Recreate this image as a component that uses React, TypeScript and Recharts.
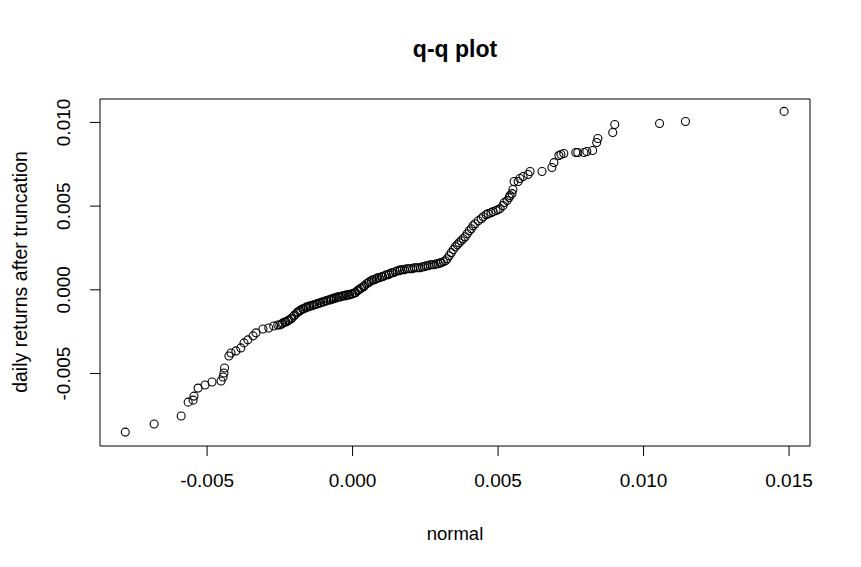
import React from 'react';
import { ScatterChart, Scatter, XAxis, YAxis, ReferenceArea } from 'recharts';

const FONT = '"Liberation Sans", Arial, Helvetica, sans-serif';

const chartTitle = 'q-q plot';
const xAxisTitle = 'normal';
const yAxisTitle = 'daily returns after truncation';

const xTicks = [-0.005, 0, 0.005, 0.01, 0.015];
const xTickLabels = ['-0.005', '0.000', '0.005', '0.010', '0.015'];
const yTicks = [-0.005, 0, 0.005, 0.01];
const yTickLabels = ['-0.005', '0.000', '0.005', '0.010'];

const xDomain = [-0.00868, 0.01572];
const yDomain = [-0.00933, 0.0114];

// lower tail
const tailLowX = [-0.00781, -0.00682, -0.00589, -0.00565, -0.00548, -0.00545, -0.00531, -0.00507, -0.00483, -0.00452, -0.00445, -0.00442, -0.0044, -0.00425, -0.00418, -0.00401, -0.00384, -0.00373, -0.0036, -0.00342, -0.00332, -0.00308, -0.00288, -0.00271, -0.00257];
const tailLowY = [-0.0085, -0.00802, -0.00754, -0.00671, -0.00659, -0.00635, -0.00587, -0.00569, -0.00551, -0.00545, -0.00521, -0.00497, -0.00467, -0.00395, -0.00377, -0.00365, -0.00347, -0.00317, -0.00299, -0.00275, -0.00257, -0.00234, -0.00228, -0.00216, -0.0021];

// central body
const bodyX = [-0.0025, -0.00243, -0.0024, -0.00233, -0.00229, -0.00223, -0.00219, -0.00212, -0.00209, -0.00202, -0.00199, -0.00192, -0.00188, -0.00182, -0.00178, -0.00171, -0.00168, -0.00161, -0.00158, -0.00151, -0.00147, -0.0014, -0.00134, -0.0013, -0.00123, -0.0012, -0.00113, -0.0011, -0.00103, -0.00099, -0.00092, -0.00089, -0.00082, -0.00075, -0.00072, -0.00065, -0.00062, -0.00055, -0.00051, -0.00045, -0.00041, -0.00034, -0.00031, -0.00024, -0.00021, -0.00014, -0.0001, -0.00003, 0.0, 0.00007, 0.0001, 0.00017, 0.00021, 0.00027, 0.00031, 0.00038, 0.00041, 0.00048, 0.00055, 0.00058, 0.00065, 0.00069, 0.00075, 0.00082, 0.00086, 0.00092, 0.00099, 0.00103, 0.0011, 0.00116, 0.00123, 0.00127, 0.00134, 0.0014, 0.00147, 0.00154, 0.00161, 0.00164, 0.00171, 0.00178, 0.00185, 0.00192, 0.00199, 0.00206, 0.00212, 0.00219, 0.00226, 0.00233, 0.0024, 0.00247, 0.00253, 0.0026, 0.00267, 0.00274, 0.00281, 0.00288, 0.00295, 0.00301, 0.00305, 0.00312, 0.00319];
const bodyY = [-0.0021, -0.00204, -0.00198, -0.00192, -0.00192, -0.00186, -0.0018, -0.00174, -0.00168, -0.00156, -0.0015, -0.00138, -0.00132, -0.00126, -0.0012, -0.00114, -0.00114, -0.00108, -0.00102, -0.00102, -0.00096, -0.00096, -0.0009, -0.0009, -0.00084, -0.00084, -0.00078, -0.00078, -0.00072, -0.00072, -0.00066, -0.00066, -0.0006, -0.0006, -0.00054, -0.00054, -0.00048, -0.00048, -0.00042, -0.00042, -0.00042, -0.00036, -0.00036, -0.00036, -0.0003, -0.0003, -0.0003, -0.00024, -0.00024, -0.00018, -0.00018, -0.00006, 0.0, 0.00006, 0.00012, 0.00018, 0.00024, 0.00036, 0.00042, 0.00048, 0.00054, 0.0006, 0.0006, 0.00066, 0.00072, 0.00072, 0.00078, 0.00078, 0.00084, 0.0009, 0.0009, 0.00096, 0.00102, 0.00102, 0.00108, 0.00114, 0.00114, 0.0012, 0.0012, 0.0012, 0.00126, 0.00126, 0.00126, 0.00126, 0.00132, 0.00132, 0.00132, 0.00132, 0.00138, 0.00138, 0.00144, 0.00144, 0.0015, 0.0015, 0.0015, 0.00156, 0.00156, 0.00162, 0.00162, 0.00168, 0.00174];

// steep rise
const riseX = [0.00325, 0.00332, 0.00339, 0.00346, 0.00353, 0.0036, 0.00366, 0.00373, 0.0038, 0.00387, 0.00394, 0.00401, 0.00408, 0.00414, 0.00421, 0.00432, 0.00442, 0.00449, 0.00459, 0.00466, 0.00476, 0.00483, 0.00493, 0.005, 0.00507, 0.00517, 0.00521, 0.00531, 0.00538, 0.00541];
const riseY = [0.00186, 0.00204, 0.00222, 0.0024, 0.00257, 0.00269, 0.00281, 0.00293, 0.00305, 0.00317, 0.00335, 0.00353, 0.00365, 0.00383, 0.00395, 0.00413, 0.00425, 0.00437, 0.00449, 0.00455, 0.00461, 0.00467, 0.00473, 0.00479, 0.00485, 0.00503, 0.00521, 0.00533, 0.00551, 0.00563];

// upper tail
const tailHighX = [0.00548, 0.00551, 0.00555, 0.00569, 0.00575, 0.00586, 0.00603, 0.0061, 0.00651, 0.00685, 0.00692, 0.00709, 0.00716, 0.00726, 0.00767, 0.00774, 0.00795, 0.00805, 0.00825, 0.00839, 0.00843, 0.00894, 0.00901, 0.01055, 0.01144, 0.01483];
const tailHighY = [0.00575, 0.00599, 0.00647, 0.00647, 0.00665, 0.00677, 0.00689, 0.00707, 0.00707, 0.00731, 0.0076, 0.00802, 0.00808, 0.00814, 0.0082, 0.0082, 0.0082, 0.00826, 0.00832, 0.0088, 0.00904, 0.0094, 0.00988, 0.00994, 0.01006, 0.01066];

const qqX = [...tailLowX, ...bodyX, ...riseX, ...tailHighX];
const qqY = [...tailLowY, ...bodyY, ...riseY, ...tailHighY];
const points = qqX.map((x, i) => ({ x, y: qqY[i] }));

const fmt = (v: number, vals: number[], labels: string[]) => {
  let best = 0;
  for (let i = 0; i < vals.length; i++) {
    if (Math.abs(vals[i] - v) < Math.abs(vals[best] - v)) best = i;
  }
  return labels[best];
};

const XTick = (props: any) => {
  const { x, y, payload } = props;
  return (
    <text x={x} y={y + 29} textAnchor="middle" fontSize={19} fontFamily={FONT} fill="#000">
      {fmt(payload.value, xTicks, xTickLabels)}
    </text>
  );
};

const YTick = (props: any) => {
  const { x, y, payload } = props;
  const bx = x - 18;
  return (
    <text x={bx} y={y} transform={`rotate(-90, ${bx}, ${y})`} textAnchor="middle" fontSize={19} fontFamily={FONT} fill="#000">
      {fmt(payload.value, yTicks, yTickLabels)}
    </text>
  );
};

const Ring = (props: any) => {
  const { cx, cy } = props;
  return <circle cx={cx} cy={cy} r={4} fill="none" stroke="#000" strokeWidth={1.1} />;
};

export default function App() {
  return (
    <div style={{ position: 'absolute', left: 0, top: 0, width: 861, height: 567, background: '#fff' }}>
      <ScatterChart width={861} height={567} margin={{ top: 99, right: 51, bottom: 61, left: 40 }}>
        <XAxis
          type="number"
          dataKey="x"
          domain={xDomain}
          ticks={xTicks}
          allowDataOverflow
          axisLine={false}
          tickLine={{ stroke: '#000' }}
          tickSize={10}
          tickMargin={2}
          height={60}
          tick={<XTick />}
        />
        <YAxis
          type="number"
          dataKey="y"
          domain={yDomain}
          ticks={yTicks}
          allowDataOverflow
          axisLine={false}
          tickLine={{ stroke: '#000' }}
          tickSize={10}
          tickMargin={2}
          width={60}
          tick={<YTick />}
        />
        <ReferenceArea x1={xDomain[0]} x2={xDomain[1]} y1={yDomain[0]} y2={yDomain[1]} fill="none" fillOpacity={0} stroke="#000" strokeWidth={1} ifOverflow="visible" />
        <Scatter data={points} shape={<Ring />} isAnimationActive={false} />
      </ScatterChart>
      <svg width={861} height={567} style={{ position: 'absolute', left: 0, top: 0, pointerEvents: 'none' }}>
        <text x={455} y={57} textAnchor="middle" fontSize={23} fontWeight="bold" fontFamily={FONT} fill="#000">{chartTitle}</text>
        <text x={455} y={540} textAnchor="middle" fontSize={18.5} fontFamily={FONT} fill="#000">{xAxisTitle}</text>
        <text x={27} y={272} transform="rotate(-90, 27, 272)" textAnchor="middle" fontSize={19.5} fontFamily={FONT} fill="#000">{yAxisTitle}</text>
      </svg>
    </div>
  );
}
